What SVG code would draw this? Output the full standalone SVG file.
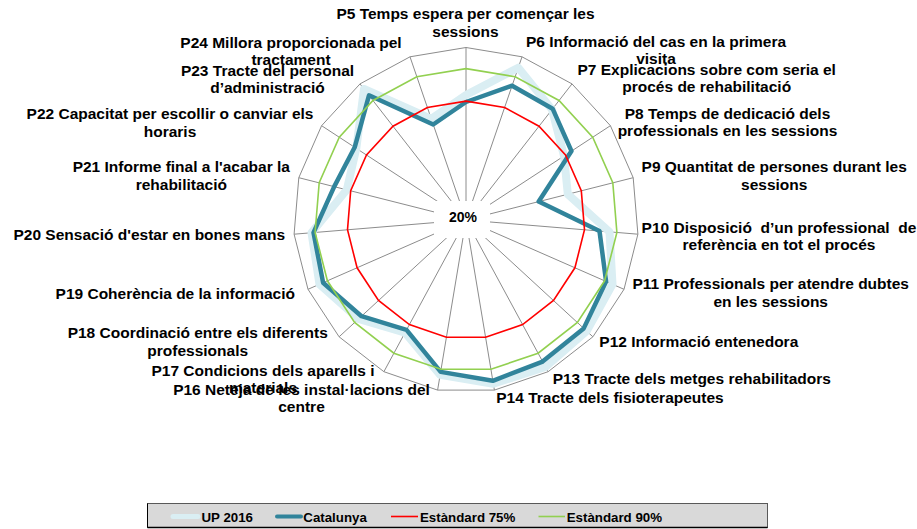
<svg xmlns="http://www.w3.org/2000/svg" width="917" height="529" viewBox="0 0 917 529">
<style>
.grid{fill:none;stroke:#8c8c8c;stroke-width:1}
.spoke{stroke:#8c8c8c;stroke-width:1}
.up{fill:none;stroke:#daeef3;stroke-width:8;stroke-linejoin:round}
.cat{fill:none;stroke:#31849b;stroke-width:4.5;stroke-linejoin:round}
.s75{fill:none;stroke:#ff0000;stroke-width:1.6}
.s90{fill:none;stroke:#92d050;stroke-width:1.6}
.lbl{font-family:"Liberation Sans",Arial,sans-serif;font-weight:bold;font-size:15.5px;fill:#000;text-anchor:middle}
.leg{font-family:"Liberation Sans",Arial,sans-serif;font-weight:bold;font-size:13.3px;fill:#000}
</style>
<rect width="917" height="529" fill="#fff"/>
<g id="grid">
<polygon class="grid" points="466,47.5 522,56.8 572,83.9 610.4,125.7 633.2,177.7 637.9,234.2 624,289.3 592.9,336.8 548.1,371.7 494.4,390.1 437.6,390.1 383.9,371.7 339.1,336.8 308,289.3 294.1,234.2 298.8,177.7 321.6,125.7 360,83.9 410,56.8"/>
<g class="spoke">
<line x1="466" y1="220" x2="466" y2="47.5"/>
<line x1="466" y1="220" x2="522" y2="56.8"/>
<line x1="466" y1="220" x2="572" y2="83.9"/>
<line x1="466" y1="220" x2="610.4" y2="125.7"/>
<line x1="466" y1="220" x2="633.2" y2="177.7"/>
<line x1="466" y1="220" x2="637.9" y2="234.2"/>
<line x1="466" y1="220" x2="624" y2="289.3"/>
<line x1="466" y1="220" x2="592.9" y2="336.8"/>
<line x1="466" y1="220" x2="548.1" y2="371.7"/>
<line x1="466" y1="220" x2="494.4" y2="390.1"/>
<line x1="466" y1="220" x2="437.6" y2="390.1"/>
<line x1="466" y1="220" x2="383.9" y2="371.7"/>
<line x1="466" y1="220" x2="339.1" y2="336.8"/>
<line x1="466" y1="220" x2="308" y2="289.3"/>
<line x1="466" y1="220" x2="294.1" y2="234.2"/>
<line x1="466" y1="220" x2="298.8" y2="177.7"/>
<line x1="466" y1="220" x2="321.6" y2="125.7"/>
<line x1="466" y1="220" x2="360" y2="83.9"/>
<line x1="466" y1="220" x2="410" y2="56.8"/>
</g>
<rect x="434" y="201" width="56" height="37" fill="#fff"/>
<text x="463" y="222" style="font-family:'Liberation Sans',Arial,sans-serif;font-weight:bold;font-size:14px;fill:#000;text-anchor:middle">20%</text>
</g>
<g id="series">
<polygon id="up2016" class="up" points="466,95 518.3,67.7 552,109.5 564,156 567.8,194.2 609.5,231.9 612.5,284.3 586.7,331.1 545.5,366.9 493.3,383.7 440.2,374.9 405.1,332.6 358.6,318.9 319.5,284.3 311.5,232.8 346.8,189.8 356.3,148.4 364,89 431.3,118.8"/>
<polygon id="catalunya" class="cat" points="466,102 512.1,85.7 552.6,108.7 571.5,151.1 538.7,201.6 599.5,231.1 606.1,281.5 583.7,328.4 542.6,361.6 492.8,380.8 440.7,371.9 406.5,329.9 361.5,316.2 323.1,282.7 313.5,232.6 334.2,186.6 354.7,147.3 369,95.3 433.2,124.5"/>
<polygon id="std75" class="s75" points="466,101.1 504.6,107.5 539,126.2 565.5,155 581.3,190.8 584.5,229.8 574.9,267.8 553.5,300.5 522.6,324.6 485.6,337.3 446.4,337.3 409.4,324.6 378.5,300.5 357.1,267.8 347.5,229.8 350.7,190.8 366.5,155 393,126.2 427.4,107.5"/>
<polygon id="std90" class="s90" points="466,68.6 515.2,76.8 559,100.5 592.7,137.2 612.8,182.8 616.9,232.5 604.6,280.8 577.4,322.5 538.1,353.2 490.9,369.3 441.1,369.3 393.9,353.2 354.6,322.5 327.4,280.8 315.1,232.5 319.2,182.8 339.3,137.2 373,100.5 416.8,76.8"/>
</g>
<g id="labels">
<text class="lbl" x="465.5" y="19">P5 Temps espera per començar les<tspan x="465.5" y="36.5">sessions</tspan></text>
<text class="lbl" x="656" y="46.5">P6 Informació del cas en la primera<tspan x="656" y="63.5">visita</tspan></text>
<text class="lbl" x="706.7" y="75">P7 Explicacions sobre com seria el<tspan x="706.7" y="92">procés de rehabilitació</tspan></text>
<text class="lbl" x="727.5" y="119">P8 Temps de dedicació dels<tspan x="727.5" y="136">professionals en les sessions</tspan></text>
<text class="lbl" x="774.2" y="172.3">P9 Quantitat de persones durant les<tspan x="774.2" y="189.5">sessions</tspan></text>
<text class="lbl" x="779" y="233.3" xml:space="preserve">P10 Disposició  d’un professional  de<tspan x="779" y="250.3">referència en tot el procés</tspan></text>
<text class="lbl" x="770.7" y="289.3">P11 Professionals per atendre dubtes<tspan x="770.7" y="306.5">en les sessions</tspan></text>
<text class="lbl" x="698.8" y="347.3">P12 Informació entenedora</text>
<text class="lbl" x="691.8" y="384.3">P13 Tracte dels metges rehabilitadors</text>
<text class="lbl" x="610" y="403.3">P14 Tracte dels fisioterapeutes</text>
<text class="lbl" x="263" y="375.7">P17 Condicions dels aparells i<tspan x="263" y="393">materials</tspan></text>
<text class="lbl" x="301.5" y="395">P16 Neteja de les instal·lacions del<tspan x="301.5" y="412.3">centre</tspan></text>
<text class="lbl" x="197.7" y="338.3">P18 Coordinació entre els diferents<tspan x="197.7" y="355.8">professionals</tspan></text>
<text class="lbl" x="175.3" y="298.7">P19 Coherència de la informació</text>
<text class="lbl" x="149.3" y="240">P20 Sensació d'estar en bones mans</text>
<text class="lbl" x="181.3" y="172.3">P21 Informe final a l'acabar la<tspan x="181.3" y="189.8">rehabilitació</tspan></text>
<text class="lbl" x="170" y="119">P22 Capacitat per escollir o canviar els<tspan x="170" y="136.5">horaris</tspan></text>
<text class="lbl" x="267.5" y="76">P23 Tracte del personal<tspan x="267.5" y="93.3">d’administració</tspan></text>
<text class="lbl" x="291" y="47.7">P24 Millora proporcionada pel<tspan x="291" y="65">tractament</tspan></text>
</g>
<g id="legend">
<rect x="147.5" y="503.5" width="620" height="24" fill="#d9d9d9" stroke="#595959" stroke-width="1"/>
<line x1="147.5" y1="527.5" x2="767.5" y2="527.5" stroke="#000" stroke-width="1.5"/>
<line x1="147.5" y1="503.5" x2="147.5" y2="527.5" stroke="#000" stroke-width="1"/>
<line x1="173" y1="516.5" x2="198" y2="516.5" stroke="#daeef3" stroke-width="5" stroke-linecap="round"/>
<text class="leg" x="201.5" y="521.5">UP 2016</text>
<line x1="277" y1="516.5" x2="301" y2="516.5" stroke="#31849b" stroke-width="4" stroke-linecap="round"/>
<text class="leg" x="303.3" y="521.5">Catalunya</text>
<line x1="391" y1="516.5" x2="418" y2="516.5" stroke="#ff0000" stroke-width="1.6"/>
<text class="leg" x="420" y="521.5">Estàndard 75%</text>
<line x1="538.5" y1="516.5" x2="565" y2="516.5" stroke="#92d050" stroke-width="1.6"/>
<text class="leg" x="566.7" y="521.5">Estàndard 90%</text>
</g>
</svg>
